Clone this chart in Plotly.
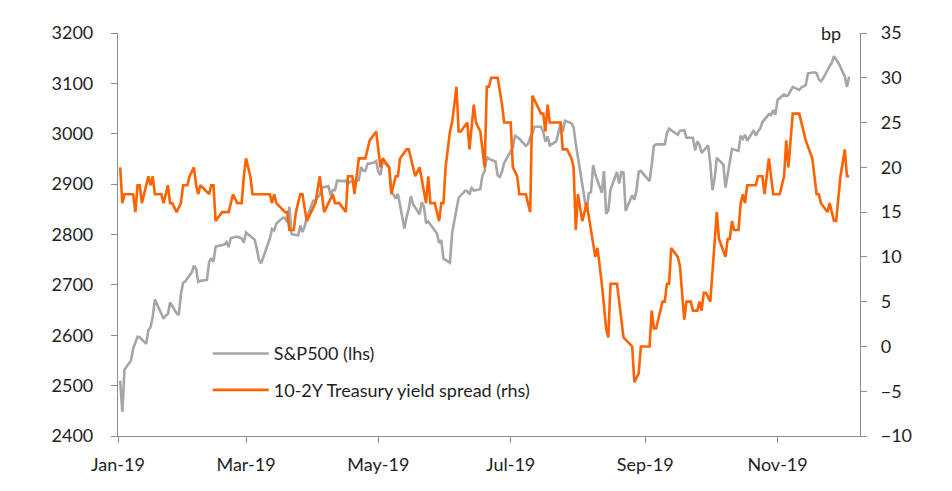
import plotly.graph_objects as go

# ---------------- S&P 500 (lhs) ----------------
spx_dates = [
    "2019-01-02","2019-01-03","2019-01-04","2019-01-07","2019-01-08","2019-01-09","2019-01-10","2019-01-11",
    "2019-01-14","2019-01-15","2019-01-16","2019-01-17","2019-01-18","2019-01-22","2019-01-23","2019-01-24",
    "2019-01-25","2019-01-28","2019-01-29","2019-01-30","2019-01-31","2019-02-01","2019-02-04","2019-02-05",
    "2019-02-06","2019-02-07","2019-02-08","2019-02-11","2019-02-12","2019-02-13","2019-02-14","2019-02-15",
    "2019-02-19","2019-02-20","2019-02-21","2019-02-22","2019-02-25","2019-02-26","2019-02-27","2019-02-28",
    "2019-03-01","2019-03-04","2019-03-05","2019-03-06","2019-03-07","2019-03-08","2019-03-11","2019-03-12",
    "2019-03-13","2019-03-14","2019-03-15","2019-03-18","2019-03-19","2019-03-20","2019-03-21","2019-03-22",
    "2019-03-25","2019-03-26","2019-03-27","2019-03-28","2019-03-29","2019-04-01","2019-04-02","2019-04-03",
    "2019-04-04","2019-04-05","2019-04-08","2019-04-09","2019-04-10","2019-04-11","2019-04-12","2019-04-15",
    "2019-04-16","2019-04-17","2019-04-18","2019-04-22","2019-04-23","2019-04-24","2019-04-25","2019-04-26",
    "2019-04-29","2019-04-30","2019-05-01","2019-05-02","2019-05-03","2019-05-06","2019-05-07","2019-05-08",
    "2019-05-09","2019-05-10","2019-05-13","2019-05-14","2019-05-15","2019-05-16","2019-05-17","2019-05-20",
    "2019-05-21","2019-05-22","2019-05-23","2019-05-24","2019-05-28","2019-05-29","2019-05-30","2019-05-31",
    "2019-06-03","2019-06-04","2019-06-05","2019-06-06","2019-06-07","2019-06-10","2019-06-11","2019-06-12",
    "2019-06-13","2019-06-14","2019-06-17","2019-06-18","2019-06-19","2019-06-20","2019-06-21","2019-06-24",
    "2019-06-25","2019-06-26","2019-06-27","2019-06-28","2019-07-01","2019-07-02","2019-07-03","2019-07-05",
    "2019-07-08","2019-07-09","2019-07-10","2019-07-11","2019-07-12","2019-07-15","2019-07-16","2019-07-17",
    "2019-07-18","2019-07-19","2019-07-22","2019-07-23","2019-07-24","2019-07-25","2019-07-26","2019-07-29",
    "2019-07-30","2019-07-31","2019-08-01","2019-08-02","2019-08-05","2019-08-06","2019-08-07","2019-08-08",
    "2019-08-09","2019-08-12","2019-08-13","2019-08-14","2019-08-15","2019-08-16","2019-08-19","2019-08-20",
    "2019-08-21","2019-08-22","2019-08-23","2019-08-26","2019-08-27","2019-08-28","2019-08-29","2019-08-30",
    "2019-09-03","2019-09-04","2019-09-05","2019-09-06","2019-09-09","2019-09-10","2019-09-11","2019-09-12",
    "2019-09-13","2019-09-16","2019-09-17","2019-09-18","2019-09-19","2019-09-20","2019-09-23","2019-09-24",
    "2019-09-25","2019-09-26","2019-09-27","2019-09-30","2019-10-01","2019-10-02","2019-10-03","2019-10-04",
    "2019-10-07","2019-10-08","2019-10-09","2019-10-10","2019-10-11","2019-10-14","2019-10-15","2019-10-16",
    "2019-10-17","2019-10-18","2019-10-21","2019-10-22","2019-10-23","2019-10-24","2019-10-25","2019-10-28",
    "2019-10-29","2019-10-30","2019-10-31","2019-11-01","2019-11-04","2019-11-05","2019-11-06","2019-11-07",
    "2019-11-08","2019-11-11","2019-11-12","2019-11-13","2019-11-14","2019-11-15","2019-11-18","2019-11-19",
    "2019-11-20","2019-11-21","2019-11-22","2019-11-25","2019-11-26","2019-11-27","2019-11-29","2019-12-02",
    "2019-12-03","2019-12-04",
]
spx_values = [
    2510,2448,2532,2550,2574,2585,2597,2596,
    2583,2610,2616,2636,2671,2633,2639,2642,
    2665,2644,2640,2681,2704,2707,2725,2738,
    2732,2706,2708,2710,2745,2753,2746,2776,
    2780,2785,2775,2793,2796,2794,2792,2784,
    2804,2793,2790,2771,2749,2743,2783,2792,
    2811,2808,2822,2833,2833,2824,2855,2801,
    2798,2818,2805,2815,2834,2867,2867,2873,
    2879,2893,2896,2878,2888,2888,2907,2906,
    2907,2900,2905,2908,2934,2927,2926,2940,
    2943,2946,2924,2918,2946,2932,2884,2879,
    2871,2881,2812,2834,2851,2876,2860,2840,
    2864,2856,2822,2826,2802,2783,2789,2752,
    2744,2803,2826,2843,2873,2887,2886,2880,
    2892,2887,2890,2918,2926,2954,2950,2945,
    2917,2914,2925,2942,2964,2973,2996,2990,
    2976,2980,2993,3000,3014,3014,3004,2984,
    2995,2977,2985,3005,3020,3004,3026,3021,
    3013,2980,2954,2932,2845,2882,2884,2938,
    2919,2883,2926,2841,2848,2889,2924,2901,
    2924,2923,2847,2878,2869,2888,2925,2926,
    2906,2938,2976,2979,2978,2979,3001,3010,
    3007,2998,3006,3007,3007,2992,2992,2967,
    2985,2978,2962,2977,2940,2888,2911,2952,
    2939,2893,2919,2938,2970,2966,2996,2990,
    2998,2986,3007,2996,3005,3010,3023,3039,
    3037,3047,3038,3067,3078,3075,3077,3085,
    3093,3087,3092,3094,3097,3120,3122,3120,
    3108,3104,3110,3134,3141,3154,3141,3114,
    3093,3113,
]

# ---------------- 10-2Y Treasury yield spread, bp (rhs) ----------------
spread_dates = [
    "2019-01-02","2019-01-03","2019-01-04","2019-01-08","2019-01-09","2019-01-10","2019-01-11","2019-01-12",
    "2019-01-13","2019-01-14","2019-01-15","2019-01-16","2019-01-17","2019-01-18","2019-01-21","2019-01-22",
    "2019-01-23","2019-01-24","2019-01-25","2019-01-26","2019-01-28","2019-01-30","2019-01-31","2019-02-02",
    "2019-02-03","2019-02-05","2019-02-06","2019-02-07","2019-02-08","2019-02-12","2019-02-13","2019-02-14",
    "2019-02-15","2019-02-18","2019-02-21","2019-02-23","2019-02-25","2019-02-27","2019-02-28","2019-03-01",
    "2019-03-03","2019-03-04","2019-03-12","2019-03-13","2019-03-14","2019-03-15","2019-03-19","2019-03-20",
    "2019-03-21","2019-03-23","2019-03-24","2019-03-26","2019-03-27","2019-03-29","2019-03-31","2019-04-02",
    "2019-04-04","2019-04-05","2019-04-06","2019-04-08","2019-04-10","2019-04-11","2019-04-13","2019-04-16",
    "2019-04-17","2019-04-19","2019-04-20","2019-04-22","2019-04-25","2019-04-27","2019-04-30","2019-05-02",
    "2019-05-03","2019-05-06","2019-05-07","2019-05-09","2019-05-10","2019-05-11","2019-05-14","2019-05-15",
    "2019-05-17","2019-05-18","2019-05-20","2019-05-22","2019-05-23","2019-05-24","2019-05-25","2019-05-27",
    "2019-05-29","2019-05-30","2019-05-31","2019-06-01","2019-06-03","2019-06-04","2019-06-06","2019-06-07",
    "2019-06-08","2019-06-11","2019-06-12","2019-06-14","2019-06-15","2019-06-17","2019-06-18","2019-06-19",
    "2019-06-20","2019-06-21","2019-06-22","2019-06-25","2019-06-27","2019-06-28","2019-07-01","2019-07-02",
    "2019-07-04","2019-07-05","2019-07-08","2019-07-10","2019-07-11","2019-07-13","2019-07-15","2019-07-16",
    "2019-07-17","2019-07-18","2019-07-19","2019-07-24","2019-07-25","2019-07-27","2019-07-29","2019-07-30",
    "2019-07-31","2019-08-01","2019-08-03","2019-08-05","2019-08-07","2019-08-08","2019-08-09","2019-08-10",
    "2019-08-12","2019-08-14","2019-08-15","2019-08-16","2019-08-19","2019-08-22","2019-08-26","2019-08-27",
    "2019-08-29","2019-08-30","2019-09-03","2019-09-04","2019-09-05","2019-09-06","2019-09-09","2019-09-10",
    "2019-09-11","2019-09-12","2019-09-13","2019-09-16","2019-09-17","2019-09-19","2019-09-20","2019-09-22",
    "2019-09-23","2019-09-25","2019-09-26","2019-09-27","2019-09-28","2019-09-29","2019-10-01","2019-10-04",
    "2019-10-05","2019-10-08","2019-10-09","2019-10-10","2019-10-11","2019-10-12","2019-10-14","2019-10-15",
    "2019-10-16","2019-10-17","2019-10-18","2019-10-22","2019-10-23","2019-10-25","2019-10-26","2019-10-28",
    "2019-10-30","2019-11-02","2019-11-04","2019-11-05","2019-11-06","2019-11-08","2019-11-11","2019-11-14",
    "2019-11-17","2019-11-19","2019-11-20","2019-11-21","2019-11-24","2019-11-25","2019-11-27","2019-11-28",
    "2019-11-30","2019-12-02","2019-12-03","2019-12-04",
]
spread_values = [
    20,16,17,17,15,18,18,16,
    17,18,19,18,19,17,17,16,
    17,18,16,16,15,16,18,18,
    19,20,18,17,18,17,18,18,
    14,15,15,17,16,16,19,21,
    19,17,17,16,17,16,15,15,
    13,13,15,17,17,14,15,16,
    19,17,15,16,17,16,16,15,
    19,19,17,21,21,23,24,20,
    21,20,17,19,19,21,22,22,
    20,19,20,17,16,19,16,16,
    14,16,16,20,24,25,29,24,
    24,25,22,27,25,24,22,20,
    29,29,30,30,27,25,25,20,
    19,17,17,15,28,27,26,26,
    24,27,25,25,22,22,21,20,
    13,17,14,16,13,11,10,11,
    7,2,1,7,7,1,0,-4,
    -3,0,0,4,2,2,5,5,
    7,7,11,10,9,3,5,5,
    4,4,5,4,6,6,5,15,
    12,10,12,12,14,13,13,16,
    17,16,18,18,19,19,17,21,
    17,17,19,23,20,26,26,23,
    21,17,17,16,15,16,14,14,
    19,22,19,19,
]

legend_names = ["S&P500 (lhs)", "10-2Y Treasury yield spread (rhs)"]
line_colors = ["#A6A6A6", "#FF6200"]
x_range = ["2019-01-01", "2019-12-09"]
left_range = [2400, 3200]
right_range = [-10, 35]

FONT = "Lato"
TXT = "#1f1f1f"
AX = "#8c8c8c"
FS = 18

fig = go.Figure()
fig.add_trace(go.Scatter(
    x=spx_dates, y=spx_values, name=legend_names[0], mode="lines",
    line=dict(color=line_colors[0], width=2.6), legendgroup="a", yaxis="y",
))
fig.add_trace(go.Scatter(
    x=spread_dates, y=spread_values, name=legend_names[1], mode="lines",
    line=dict(color=line_colors[1], width=2.6), legendgroup="b", yaxis="y2",
))

fig.update_layout(
    width=952, height=491,
    margin=dict(l=110, r=100, t=25, b=63),
    paper_bgcolor="white", plot_bgcolor="white",
    font=dict(family=FONT, size=FS, color=TXT),
    showlegend=True,
    legend=dict(
        x=0.121, y=0.25, xanchor="left", yanchor="top",
        bgcolor="rgba(0,0,0,0)", font=dict(size=FS, color=TXT),
        tracegroupgap=10, itemwidth=56,
    ),
    xaxis=dict(
        type="date", range=x_range, dtick="M2", tick0="2019-01-01",
        tickformat="%b-%y", showgrid=False, zeroline=False,
        showline=True, linecolor=AX, linewidth=1.2,
        ticks="outside", ticklen=6, tickcolor=AX,
        ticklabelstandoff=6,
        tickfont=dict(size=FS, color=TXT),
    ),
    yaxis=dict(
        range=left_range, dtick=100, showgrid=False, zeroline=False,
        showline=True, linecolor=AX, linewidth=1.2,
        ticks="outside", ticklen=6, tickcolor=AX,
        ticklabelstandoff=14,
        tickfont=dict(size=FS, color=TXT),
    ),
    yaxis2=dict(
        range=right_range, dtick=5, overlaying="y", side="right",
        showgrid=False, zeroline=False,
        showline=True, linecolor=AX, linewidth=1.2,
        ticks="outside", ticklen=6, tickcolor=AX,
        ticklabelstandoff=10,
        tickfont=dict(size=FS, color=TXT),
    ),
    annotations=[dict(
        text="bp", xref="paper", yref="paper", x=0.977, y=1.0,
        xanchor="right", yanchor="middle", showarrow=False,
        font=dict(size=FS, color=TXT),
    )],
)

fig.write_html("out.html")
